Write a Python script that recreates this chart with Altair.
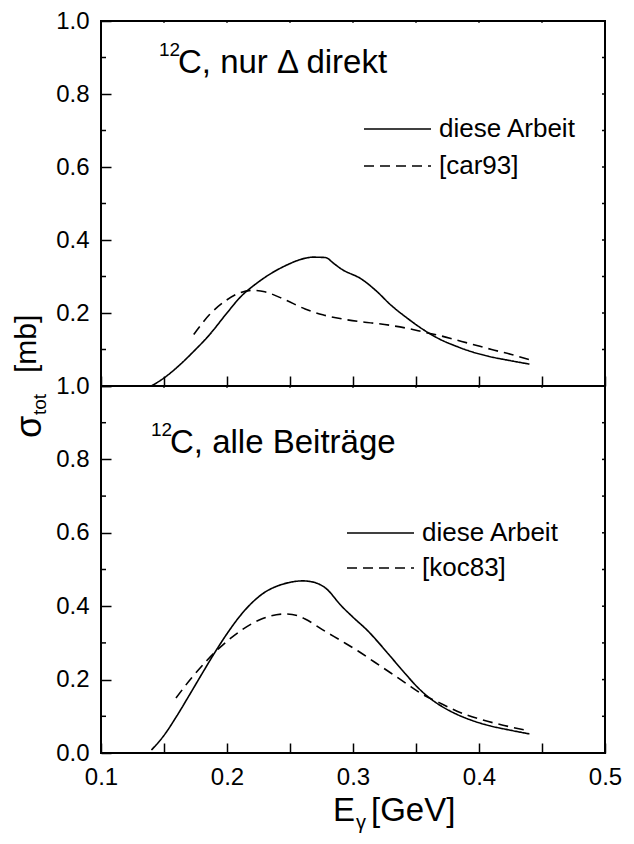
import altair as alt
import pandas as pd

# ---------------- data ----------------
top_this_x = [0.140, 0.150, 0.160, 0.1736, 0.186, 0.1995, 0.211, 0.223, 0.2466, 0.262, 0.268, 0.278,
              0.285, 0.291, 0.3067, 0.318, 0.330, 0.343, 0.356, 0.369, 0.3826, 0.395, 0.408, 0.424, 0.440]
top_this_y = [0.000, 0.022, 0.050, 0.095, 0.140, 0.198, 0.245, 0.280, 0.330, 0.350, 0.353, 0.352,
              0.335, 0.320, 0.293, 0.262, 0.222, 0.186, 0.154, 0.128, 0.108, 0.093, 0.081, 0.070, 0.060]

top_ref_x = [0.1736, 0.186, 0.1995, 0.210, 0.220, 0.230, 0.245, 0.262, 0.276, 0.291, 0.304, 0.317,
             0.330, 0.343, 0.356, 0.369, 0.382, 0.395, 0.410, 0.425, 0.440]
top_ref_y = [0.141, 0.195, 0.235, 0.255, 0.262, 0.258, 0.238, 0.211, 0.195, 0.184, 0.177, 0.172,
             0.166, 0.158, 0.148, 0.138, 0.126, 0.114, 0.100, 0.087, 0.072]

bot_this_x = [0.140, 0.150, 0.160, 0.170, 0.180, 0.190, 0.200, 0.210, 0.220, 0.230, 0.240, 0.250,
              0.260, 0.268, 0.278, 0.291, 0.300, 0.312, 0.321, 0.330, 0.341, 0.351, 0.360, 0.370,
              0.382, 0.395, 0.410, 0.425, 0.440]
bot_this_y = [0.008, 0.048, 0.100, 0.157, 0.215, 0.272, 0.325, 0.372, 0.410, 0.438, 0.455, 0.465,
              0.469, 0.466, 0.450, 0.400, 0.370, 0.332, 0.298, 0.262, 0.218, 0.180, 0.152, 0.128,
              0.106, 0.088, 0.073, 0.062, 0.052]

bot_ref_x = [0.1595, 0.172, 0.184, 0.1995, 0.213, 0.226, 0.2466, 0.257, 0.262, 0.2777, 0.291, 0.304,
             0.317, 0.330, 0.342, 0.3536, 0.368, 0.3826, 0.400, 0.420, 0.440]
bot_ref_y = [0.150, 0.205, 0.252, 0.303, 0.338, 0.363, 0.379, 0.373, 0.365, 0.332, 0.305, 0.278,
             0.248, 0.218, 0.190, 0.163, 0.138, 0.114, 0.093, 0.075, 0.060]

top_labels = ["diese Arbeit", "[car93]"]
bot_labels = ["diese Arbeit", "[koc83]"]
top_title = "C, nur \u0394 direkt"
bot_title = "C, alle Beitr\u00e4ge"
isotope = "12"

x_ticks = [0.10, 0.15, 0.20, 0.25, 0.30, 0.35, 0.40, 0.45, 0.50]
y_major = [0.0, 0.2, 0.4, 0.6, 0.8, 1.0]
y_minor = [0.1, 0.3, 0.5, 0.7, 0.9]
y_all = [0.0, 0.1, 0.2, 0.3, 0.4, 0.5, 0.6, 0.7, 0.8, 0.9, 1.0]

# ---------------- layout ----------------
W = 504
H_TOP = 365
H_BOT = 367
FONT = "Liberation Sans"
LW = 1.6
DASH = [10, 6]
LEFT = 104   # page x of the plot frame
TOP = 20     # page y of the plot frame

xscale = alt.Scale(domain=[0.1, 0.5], nice=False, zero=False)
yscale = alt.Scale(domain=[0.0, 1.0], nice=False, zero=False)


def curves_df(tx, ty, rx, ry):
    return pd.concat([
        pd.DataFrame({"E": tx, "sigma": ty, "kind": "this"}),
        pd.DataFrame({"E": rx, "sigma": ry, "kind": "ref"}),
    ], ignore_index=True)


def one():
    return pd.DataFrame({"t": [0]})


def txt(text, size, x, y, angle=0, align="left", baseline="alphabetic"):
    kw = dict(text=text, font=FONT, fontSize=size, align=align, baseline=baseline, color="black")
    if angle:
        kw["angle"] = angle
    return alt.Chart(one()).mark_text(**kw).encode(x=alt.value(x), y=alt.value(y))


def panel(df, labels, title, bottom, ann, leg):
    xaxis = alt.Axis(values=x_ticks, tickSize=10, offset=-10, domain=False, tickWidth=1.5,
                     tickColor="black", labels=bottom, labelFont=FONT, labelFontSize=24,
                     labelColor="black", labelPadding=12, labelFlush=False, labelOverlap=False,
                     labelExpr="abs(datum.value*10 - round(datum.value*10)) < 0.01 ? format(datum.value, '.1f') : ''",
                     title=None, grid=False)
    if bottom:
        ylab = "format(datum.value, '.1f')"
    else:
        ylab = "datum.value < 0.05 ? '' : format(datum.value, '.1f')"
    yaxis = alt.Axis(values=y_major, tickSize=10, offset=-10, domain=False, tickWidth=1.5,
                     tickColor="black", labelFont=FONT, labelFontSize=24, labelColor="black",
                     labelPadding=12, labelFlush=False, labelOverlap=False, labelExpr=ylab,
                     title=None, grid=False)

    lines = alt.Chart(df).mark_line(color="black", strokeWidth=LW, interpolate="monotone").encode(
        x=alt.X("E:Q", scale=xscale, axis=xaxis),
        y=alt.Y("sigma:Q", scale=yscale, axis=yaxis),
        strokeDash=alt.StrokeDash("kind:N", scale=alt.Scale(domain=["this", "ref"], range=[[1, 0], DASH]),
                                  legend=None),
        detail="kind:N",
    )

    minor = alt.Chart(pd.DataFrame({"v": y_minor})).mark_rule(color="black", strokeWidth=1.5).encode(
        y=alt.Y("v:Q", scale=yscale, axis=yaxis), x=alt.value(0), x2=alt.value(5))
    right = alt.Chart(pd.DataFrame({"v": y_all})).mark_rule(color="black", strokeWidth=1.5).encode(
        y=alt.Y("v:Q", scale=yscale, axis=yaxis), x=alt.value(W - 3), x2=alt.value(W))
    topt = alt.Chart(pd.DataFrame({"v": x_ticks})).mark_rule(color="black", strokeWidth=1.2).encode(
        x=alt.X("v:Q", scale=xscale, axis=xaxis), y=alt.value(0), y2=alt.value(2))

    layers = [lines, minor, right, topt]

    # annotation: superscript isotope + text
    ax, ay = ann
    layers.append(txt(isotope, 19, ax - 19, ay - 17))
    layers.append(txt(title, 33, ax, ay))

    # legend
    lx1, lx2, ly1, ly2 = leg
    layers.append(alt.Chart(one()).mark_rule(color="black", strokeWidth=LW).encode(
        x=alt.value(lx1), x2=alt.value(lx2), y=alt.value(ly1)))
    layers.append(alt.Chart(one()).mark_rule(color="black", strokeWidth=LW, strokeDash=DASH).encode(
        x=alt.value(lx1), x2=alt.value(lx2), y=alt.value(ly2)))
    for lab, yy in zip(labels, [ly1, ly2]):
        layers.append(txt(lab, 26, lx2 + 8, yy, baseline="middle"))
    return layers


top_layers = panel(curves_df(top_this_x, top_this_y, top_ref_x, top_ref_y), top_labels, top_title,
                   False, (181 - LEFT, 72 - TOP), (367 - LEFT, 434 - LEFT, 128 - TOP, 165 - TOP))
bot_layers = panel(curves_df(bot_this_x, bot_this_y, bot_ref_x, bot_ref_y), bot_labels, bot_title,
                   True, (173 - LEFT, 67), (350 - LEFT, 417 - LEFT, 147, 182))

# y-axis title (rotated), placed relative to the top panel
top_layers.append(txt("\u03c3", 36, -60, 437 - TOP, angle=270))
top_layers.append(txt("tot", 19, -55, 414 - TOP, angle=270))
top_layers.append(txt("[mb]", 30, -65, 372 - TOP, angle=270))

# x-axis title, placed relative to the bottom panel
top_e = 336 - LEFT
bot_layers.append(txt("E", 33, top_e, 435))
bot_layers.append(txt("\u03b3", 20, top_e + 23, 443))
bot_layers.append(txt("[GeV]", 33, top_e + 38, 435))

top = alt.layer(*top_layers).properties(width=W, height=H_TOP)
bot = alt.layer(*bot_layers).properties(width=W, height=H_BOT)

chart = alt.vconcat(top, bot, spacing=0, bounds="flush").properties(
    padding={"left": 3, "top": 0, "right": 0, "bottom": 0}
).configure_view(stroke="black", strokeWidth=2)

chart.save("out.html", embed_options={"renderer": "svg", "actions": False})
